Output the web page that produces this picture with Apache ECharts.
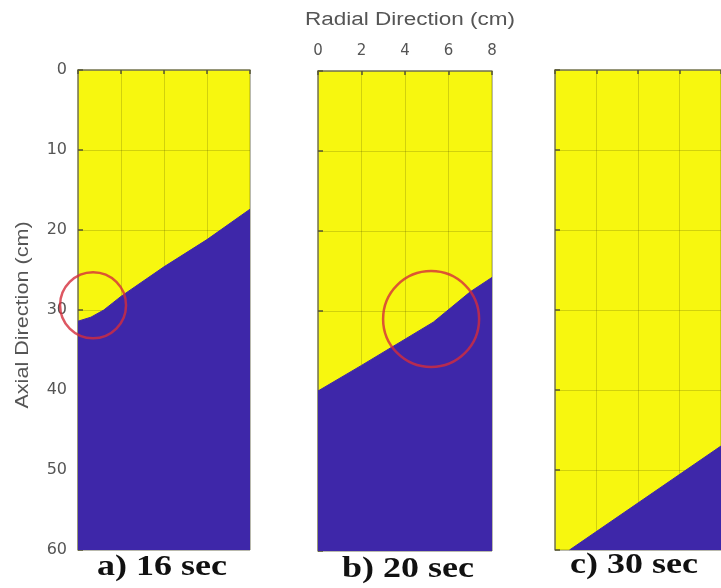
<!DOCTYPE html>
<html>
<head>
<meta charset="utf-8">
<title>Interface position at 16, 20 and 30 s</title>
<script src="https://cdn.jsdelivr.net/npm/echarts@6/dist/echarts.min.js"></script>
<style>
  html, body { margin: 0; padding: 0; background: #ffffff; }
  #chart { width: 721px; height: 588px; }
</style>
</head>
<body>
<div id="chart"></div>
<script>
// Radial ticks (cm) and axial ticks (cm)
var radialTicks = [0, 2, 4, 6, 8];
var axialTicks = [0, 10, 20, 30, 40, 50, 60];

// Panel captions
var panelCaptions = ['a) 16 sec', 'b) 20 sec', 'c) 30 sec'];

// Interface between the two phases: [radial cm, axial cm]
var interface16 = [[0, 31.4], [0.6, 30.9], [1.2, 30.0], [2, 28.3], [4, 24.6], [6, 21.2], [8, 17.4]];
var interface20 = [[0, 40.0], [2, 36.8], [5.3, 31.4], [7, 27.6], [8, 25.8]];
var interface30 = [[0.7, 60.0], [8, 47.0]];

// Highlighted regions: centre [radial, axial]
var mark16 = [[0.7, 29.4]];
var mark20 = [[5.2, 31.0]];

var YELLOW = '#f7f70f';
var BLUE = '#3e27a9';
var RED = '#d42d3b';
var GRIDLINE = 'rgba(60,60,0,0.2)';
var AXISLINE = '#80805a';
var TICKFONT = 'DejaVu Sans';

var panels = [
  { left: 78, top: 70, width: 172, height: 480, line: interface16, mark: mark16, markSize: 66, ylabels: true, xlabels: false },
  { left: 318, top: 71, width: 174, height: 480, line: interface20, mark: mark20, markSize: 96, ylabels: false, xlabels: true },
  { left: 555, top: 70, width: 172, height: 480, line: interface30, mark: null, markSize: 0, ylabels: false, xlabels: false }
];

var grids = [], xAxes = [], yAxes = [], series = [];
panels.forEach(function (p, i) {
  grids.push({
    left: p.left, top: p.top, width: p.width, height: p.height,
    show: true, backgroundColor: YELLOW, borderColor: 'rgba(0,0,0,0.3)', borderWidth: 1,
    containLabel: false
  });
  xAxes.push({
    gridIndex: i, type: 'value', position: 'top',
    min: radialTicks[0], max: radialTicks[radialTicks.length - 1], interval: 2,
    axisLine: { show: true, lineStyle: { color: AXISLINE, width: 1.5 } },
    axisTick: { show: true, inside: true, length: 4, lineStyle: { color: '#555533', width: 1.5 } },
    axisLabel: { show: p.xlabels, margin: 12, fontFamily: TICKFONT, fontSize: 15, color: '#555555' },
    splitLine: { show: true, lineStyle: { color: GRIDLINE, width: 1 } }
  });
  yAxes.push({
    gridIndex: i, type: 'value', inverse: true,
    min: axialTicks[0], max: axialTicks[axialTicks.length - 1], interval: 10,
    axisLine: { show: true, onZero: false, lineStyle: { color: AXISLINE, width: 1.5 } },
    axisTick: { show: true, inside: true, length: 5, lineStyle: { color: '#555533', width: 1.5 } },
    axisLabel: { show: p.ylabels, margin: 11, fontFamily: TICKFONT, fontSize: 16, color: '#555555' },
    splitLine: { show: true, lineStyle: { color: GRIDLINE, width: 1 } }
  });
  series.push({
    type: 'line', xAxisIndex: i, yAxisIndex: i,
    data: p.line, symbol: 'none', smooth: false, z: 2,
    lineStyle: { color: BLUE, width: 1 },
    areaStyle: { color: BLUE, opacity: 1, origin: 'end' },
    silent: true
  });
  if (p.mark) {
    series.push({
      type: 'scatter', xAxisIndex: i, yAxisIndex: i,
      data: p.mark, symbol: 'circle', symbolSize: p.markSize, clip: false, z: 5,
      itemStyle: { color: 'rgba(0,0,0,0)', borderColor: RED, borderWidth: 2.5 },
      silent: true
    });
  }
});

var captionX = [162, 408, 634];
var captionY = [582, 584, 580];
var graphics = [
  {
    type: 'text', x: 410, y: 20, scaleX: 1.25,
    style: { text: 'Radial Direction (cm)', font: '18px "Liberation Sans"', fill: '#555555', textAlign: 'center', textVerticalAlign: 'middle' }
  },
  {
    type: 'text', x: 23, y: 315, rotation: Math.PI / 2, scaleX: 1.2,
    style: { text: 'Axial Direction (cm)', font: '18px "Liberation Sans"', fill: '#555555', textAlign: 'center', textVerticalAlign: 'middle' }
  }
];
panelCaptions.forEach(function (c, i) {
  graphics.push({
    type: 'text', x: captionX[i], y: captionY[i], scaleX: 1.24,
    style: { text: c, font: 'bold 29px "Liberation Serif"', fill: '#111111', textAlign: 'center', textVerticalAlign: 'bottom' }
  });
});

var chart = echarts.init(document.getElementById('chart'), null, { renderer: 'canvas' });
chart.setOption({
  animation: false,
  backgroundColor: '#ffffff',
  grid: grids,
  xAxis: xAxes,
  yAxis: yAxes,
  series: series,
  graphic: graphics
});
</script>
</body>
</html>
